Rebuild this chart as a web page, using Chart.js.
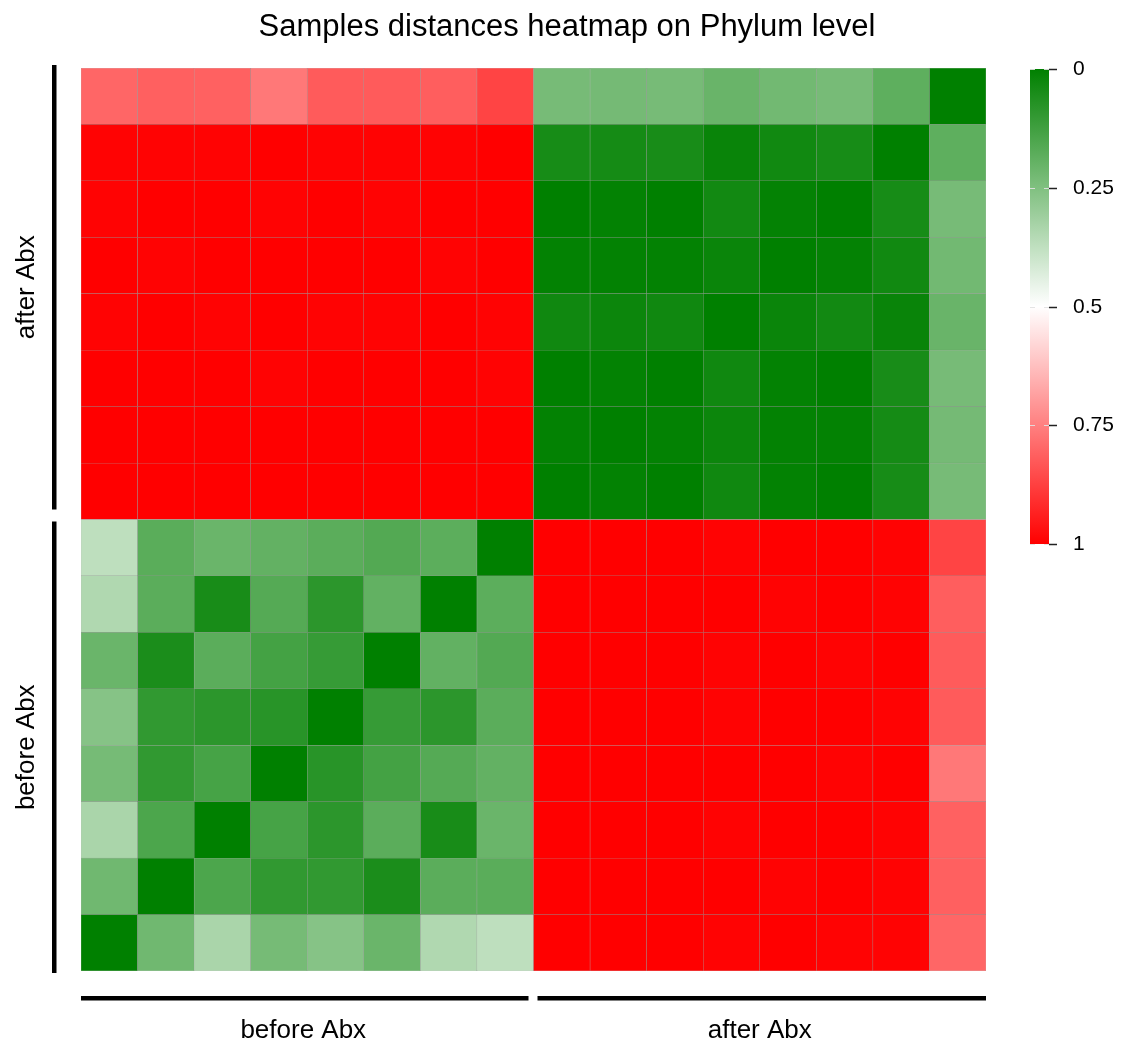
<!DOCTYPE html>
<html>
<head>
<meta charset="utf-8">
<script src="https://cdn.jsdelivr.net/npm/chart.js@4/dist/chart.umd.min.js"></script>
<style>
  html, body { margin: 0; padding: 0; background: #fff; }
  canvas { display: block; }
</style>
</head>
<body>
<canvas id="heatmap" width="1122" height="1045"></canvas>
<script>
const TITLE = 'Samples distances heatmap on Phylum level';
const FONT = '"Liberation Sans", Arial, Helvetica, sans-serif';

const samples = [
  'before 1', 'before 2', 'before 3', 'before 4', 'before 5', 'before 6', 'before 7', 'before 8',
  'after 1', 'after 2', 'after 3', 'after 4', 'after 5', 'after 6', 'after 7', 'after 8',
];
const groupLabels = ['before Abx', 'after Abx'];
const groupSize = 8;
const legendTicks = [0, 0.25, 0.5, 0.75, 1];

// row i = sample i, bottom row of the picture first
const distances = [
  [0, .22, .333, .231, .263, .208, .345, .373, 1, 1, 1, .995, 1, .995, .995, .80],
  [.22, 0, .149, .097, .097, .053, .178, .176, 1, 1, 1, 1, .995, 1, .995, .812],
  [.333, .149, 0, .137, .086, .178, .047, .208, 1, 1, 1, .995, 1, 1, .995, .81],
  [.231, .097, .137, 0, .078, .133, .167, .194, 1, 1, 1, 1, 1, .995, 1, .765],
  [.263, .097, .086, .078, 0, .106, .086, .178, 1, 1, 1, .995, 1, 1, .995, .822],
  [.208, .053, .178, .133, .106, 0, .192, .162, 1, 1, 1, .995, 1, .995, 1, .822],
  [.345, .178, .047, .167, .086, .192, 0, .18, 1, 1, 1, 1, .995, 1, .995, .816],
  [.373, .176, .208, .194, .178, .162, .18, 0, 1, 1, 1, .995, 1, 1, .995, .866],
  [1, 1, 1, 1, 1, 1, 1, 1, 0, .006, 0, .032, .006, 0, .046, .233],
  [1, 1, 1, 1, 1, 1, 1, 1, .006, 0, .006, .024, .006, .006, .042, .23],
  [1, 1, 1, .995, 1, 1, 1, .995, 0, .006, 0, .032, .006, 0, .048, .234],
  [.995, 1, .995, 1, .995, .995, 1, .995, .032, .024, .032, 0, .02, .035, .017, .206],
  [1, .995, 1, 1, 1, 1, .995, 1, .006, .006, .006, .02, 0, .008, .034, .224],
  [.995, 1, 1, .995, 1, .995, 1, 1, 0, .006, 0, .035, .008, 0, .046, .234],
  [.995, .995, .995, 1, .995, .995, .995, 1, .046, .042, .048, .017, .034, .046, 0, .185],
  [.80, .812, .81, .765, .822, .822, .816, .866, .233, .23, .234, .206, .224, .234, .185, 0],
];

// 0 -> green, 0.5 -> white, 1 -> red
function distColor(v) {
  let r, g, b;
  if (v <= 0.5) {
    const t = v / 0.5;
    r = 255 * t; g = 128 + 127 * t; b = 255 * t;
  } else {
    const t = (v - 0.5) / 0.5;
    r = 255; g = 255 * (1 - t); b = 255 * (1 - t);
  }
  return `rgb(${Math.round(r)},${Math.round(g)},${Math.round(b)})`;
}

// one floating bar per cell: each dataset is a row of the matrix
const datasets = distances.map((row, i) => ({
  label: samples[i],
  data: samples.map(() => [i, i + 1]),
  backgroundColor: row.map(distColor),
  borderColor: 'rgba(90, 90, 90, 0.45)',
  borderWidth: 0.5,
  borderSkipped: false,
  barPercentage: 1,
  categoryPercentage: 1,
}));

const decorations = {
  id: 'decorations',
  afterDraw: (chart) => {
    const ctx = chart.ctx;
    const ys = chart.scales.y;
    const area = chart.chartArea;
    const cellW = (area.right - area.left) / samples.length;
    const xEdge = (k) => area.left + k * cellW;

    ctx.save();
    ctx.fillStyle = '#000';

    // title
    ctx.font = `31px ${FONT}`;
    ctx.textAlign = 'center';
    ctx.textBaseline = 'alphabetic';
    ctx.fillText(TITLE, 567, 36);

    // group brackets, left side
    const yTop = ys.getPixelForValue(16);
    const yMid = ys.getPixelForValue(groupSize);
    const yBot = ys.getPixelForValue(0);
    ctx.fillRect(52, yTop - 3, 4.5, yMid - 10 - (yTop - 3));
    ctx.fillRect(52, yMid + 2, 4.5, yBot + 2 - (yMid + 2));

    // group brackets, bottom
    const xMid = xEdge(groupSize);
    ctx.fillRect(xEdge(0), 996, xMid - 5 - xEdge(0), 4.5);
    ctx.fillRect(xMid + 4, 996, xEdge(16) - (xMid + 4), 4.5);

    ctx.font = `26px ${FONT}`;
    ctx.textAlign = 'center';
    ctx.fillText(groupLabels[0], (xEdge(0) + xMid) / 2 - 4, 1038);
    ctx.fillText(groupLabels[1], (xMid + xEdge(16)) / 2, 1038);

    // rotated labels
    const drawRot = (text, y) => {
      ctx.save();
      ctx.translate(34, y);
      ctx.rotate(-Math.PI / 2);
      ctx.textAlign = 'center';
      ctx.textBaseline = 'alphabetic';
      ctx.fillText(text, 0, 0);
      ctx.restore();
    };
    drawRot(groupLabels[1], (yTop - 3 + yMid - 10) / 2);
    drawRot(groupLabels[0], (yMid + 2 + yBot + 2) / 2);

    // colour bar
    const bx = 1030, bw = 19, by0 = 69, by1 = 544;
    const grad = ctx.createLinearGradient(0, by0, 0, by1);
    for (let k = 0; k <= 20; k++) {
      grad.addColorStop(k / 20, distColor(k / 20));
    }
    ctx.fillStyle = grad;
    ctx.fillRect(bx, by0, bw, by1 - by0);

    ctx.font = `21px ${FONT}`;
    ctx.textAlign = 'left';
    ctx.textBaseline = 'middle';
    legendTicks.forEach((t) => {
      const y = Math.round(by0 + t * (by1 - by0)) + 0.5;
      ctx.strokeStyle = 'rgba(225, 225, 225, 0.9)';
      ctx.lineWidth = 1;
      ctx.beginPath();
      ctx.moveTo(bx, y); ctx.lineTo(bx + 5, y);
      ctx.moveTo(bx + bw - 5, y); ctx.lineTo(bx + bw, y);
      ctx.stroke();
      ctx.strokeStyle = '#222';
      ctx.lineWidth = 1.5;
      ctx.beginPath();
      ctx.moveTo(bx + bw, y); ctx.lineTo(bx + bw + 8, y);
      ctx.stroke();
      ctx.fillStyle = '#000';
      ctx.fillText(String(t), 1073, y);
    });

    ctx.restore();
  },
};

new Chart(document.getElementById('heatmap'), {
  type: 'bar',
  data: { labels: samples, datasets },
  plugins: [decorations],
  options: {
    responsive: false,
    animation: false,
    layout: { padding: { left: 81, right: 136, top: 68, bottom: 74 } },
    scales: {
      x: { display: false, stacked: true, grid: { display: false } },
      y: { display: false, min: 0, max: 16, grid: { display: false } },
    },
    plugins: {
      legend: { display: false },
      title: { display: false },
      tooltip: { enabled: false },
    },
  },
});
</script>
</body>
</html>
